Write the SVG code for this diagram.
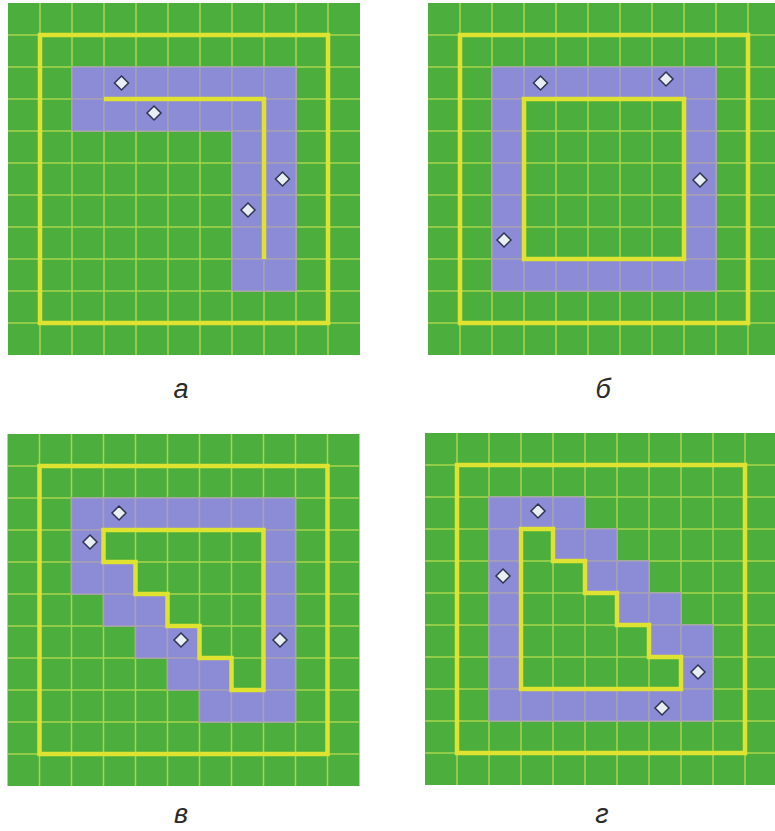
<svg xmlns="http://www.w3.org/2000/svg" width="775" height="831" viewBox="0 0 775 831">
<style>
.bg{fill:#4cae3c}
.grid{fill:none;stroke:#a6d64c;stroke-width:1.5}
.cell{fill:#8b8bd6;stroke:#a7a0b6;stroke-width:1.5}
.yl{fill:none;stroke:#e0e232;stroke-width:4.5;stroke-linejoin:miter}
.dia{fill:#e8eef2;stroke:#2e3450;stroke-width:1.5}
.lbl{font-family:"Liberation Sans",Arial,sans-serif;font-style:italic;font-size:27px;fill:#2a2a2a;text-anchor:middle}
</style>
<defs>
<path id="gridlines" class="grid" d="M32 0V352M64 0V352M96 0V352M128 0V352M160 0V352M192 0V352M224 0V352M256 0V352M288 0V352M320 0V352M0 32H352M0 64H352M0 96H352M0 128H352M0 160H352M0 192H352M0 224H352M0 256H352M0 288H352M0 320H352"/>
<rect id="c" class="cell" width="32" height="32"/>
<path id="d" class="dia" d="M0 -7L7 0L0 7L-7 0Z"/>
</defs>
<rect width="775" height="831" fill="#ffffff"/>

<g id="panel-a" transform="translate(8,3)">
<rect class="bg" width="352" height="352"/>
<use href="#gridlines"/>
<g>
<use href="#c" x="64" y="64"/><use href="#c" x="96" y="64"/><use href="#c" x="128" y="64"/><use href="#c" x="160" y="64"/><use href="#c" x="192" y="64"/><use href="#c" x="224" y="64"/><use href="#c" x="256" y="64"/>
<use href="#c" x="64" y="96"/><use href="#c" x="96" y="96"/><use href="#c" x="128" y="96"/><use href="#c" x="160" y="96"/><use href="#c" x="192" y="96"/><use href="#c" x="224" y="96"/><use href="#c" x="256" y="96"/>
<use href="#c" x="224" y="128"/><use href="#c" x="256" y="128"/>
<use href="#c" x="224" y="160"/><use href="#c" x="256" y="160"/>
<use href="#c" x="224" y="192"/><use href="#c" x="256" y="192"/>
<use href="#c" x="224" y="224"/><use href="#c" x="256" y="224"/>
<use href="#c" x="224" y="256"/><use href="#c" x="256" y="256"/>
</g>
<rect class="yl" x="32" y="32" width="288" height="288"/>
<polyline class="yl" points="96,96 256,96 256,256"/>
<use href="#d" x="113.5" y="80"/><use href="#d" x="146" y="110"/><use href="#d" x="274.5" y="176"/><use href="#d" x="240" y="207"/>
</g>

<g id="panel-b" transform="translate(428,3)">
<rect class="bg" width="352" height="352"/>
<use href="#gridlines"/>
<g>
<use href="#c" x="64" y="64"/><use href="#c" x="96" y="64"/><use href="#c" x="128" y="64"/><use href="#c" x="160" y="64"/><use href="#c" x="192" y="64"/><use href="#c" x="224" y="64"/><use href="#c" x="256" y="64"/>
<use href="#c" x="64" y="96"/><use href="#c" x="256" y="96"/>
<use href="#c" x="64" y="128"/><use href="#c" x="256" y="128"/>
<use href="#c" x="64" y="160"/><use href="#c" x="256" y="160"/>
<use href="#c" x="64" y="192"/><use href="#c" x="256" y="192"/>
<use href="#c" x="64" y="224"/><use href="#c" x="256" y="224"/>
<use href="#c" x="64" y="256"/><use href="#c" x="96" y="256"/><use href="#c" x="128" y="256"/><use href="#c" x="160" y="256"/><use href="#c" x="192" y="256"/><use href="#c" x="224" y="256"/><use href="#c" x="256" y="256"/>
</g>
<rect class="yl" x="32" y="32" width="288" height="288"/>
<rect class="yl" x="96" y="96" width="160" height="160"/>
<use href="#d" x="112.5" y="80"/><use href="#d" x="238" y="76"/><use href="#d" x="272" y="177"/><use href="#d" x="76" y="237"/>
</g>

<g id="panel-c" transform="translate(7.5,434)">
<rect class="bg" width="352" height="352"/>
<use href="#gridlines"/>
<g>
<use href="#c" x="64" y="64"/><use href="#c" x="96" y="64"/><use href="#c" x="128" y="64"/><use href="#c" x="160" y="64"/><use href="#c" x="192" y="64"/><use href="#c" x="224" y="64"/><use href="#c" x="256" y="64"/>
<use href="#c" x="64" y="96"/><use href="#c" x="256" y="96"/>
<use href="#c" x="64" y="128"/><use href="#c" x="96" y="128"/><use href="#c" x="256" y="128"/>
<use href="#c" x="96" y="160"/><use href="#c" x="128" y="160"/><use href="#c" x="256" y="160"/>
<use href="#c" x="128" y="192"/><use href="#c" x="160" y="192"/><use href="#c" x="256" y="192"/>
<use href="#c" x="160" y="224"/><use href="#c" x="192" y="224"/><use href="#c" x="256" y="224"/>
<use href="#c" x="192" y="256"/><use href="#c" x="224" y="256"/><use href="#c" x="256" y="256"/>
</g>
<rect class="yl" x="32" y="32" width="288" height="288"/>
<polygon class="yl" points="96,96 256,96 256,256 224,256 224,224 192,224 192,192 160,192 160,160 128,160 128,128 96,128"/>
<use href="#d" x="111.5" y="79"/><use href="#d" x="82.5" y="108"/><use href="#d" x="173.5" y="206"/><use href="#d" x="272.5" y="206"/>
</g>

<g id="panel-d" transform="translate(425,433)">
<rect class="bg" width="352" height="352"/>
<use href="#gridlines"/>
<g>
<use href="#c" x="64" y="64"/><use href="#c" x="96" y="64"/><use href="#c" x="128" y="64"/>
<use href="#c" x="64" y="96"/><use href="#c" x="128" y="96"/><use href="#c" x="160" y="96"/>
<use href="#c" x="64" y="128"/><use href="#c" x="160" y="128"/><use href="#c" x="192" y="128"/>
<use href="#c" x="64" y="160"/><use href="#c" x="192" y="160"/><use href="#c" x="224" y="160"/>
<use href="#c" x="64" y="192"/><use href="#c" x="224" y="192"/><use href="#c" x="256" y="192"/>
<use href="#c" x="64" y="224"/><use href="#c" x="256" y="224"/>
<use href="#c" x="64" y="256"/><use href="#c" x="96" y="256"/><use href="#c" x="128" y="256"/><use href="#c" x="160" y="256"/><use href="#c" x="192" y="256"/><use href="#c" x="224" y="256"/><use href="#c" x="256" y="256"/>
</g>
<rect class="yl" x="32" y="32" width="288" height="288"/>
<polygon class="yl" points="96,96 128,96 128,128 160,128 160,160 192,160 192,192 224,192 224,224 256,224 256,256 96,256"/>
<use href="#d" x="113" y="78"/><use href="#d" x="78" y="143"/><use href="#d" x="273" y="239"/><use href="#d" x="237" y="275"/>
</g>

<g id="labels">
<text class="lbl" x="181" y="398">а</text>
<text class="lbl" x="603" y="398">б</text>
<text class="lbl" x="181" y="823">в</text>
<text class="lbl" x="602" y="823">г</text>
</g>
</svg>
